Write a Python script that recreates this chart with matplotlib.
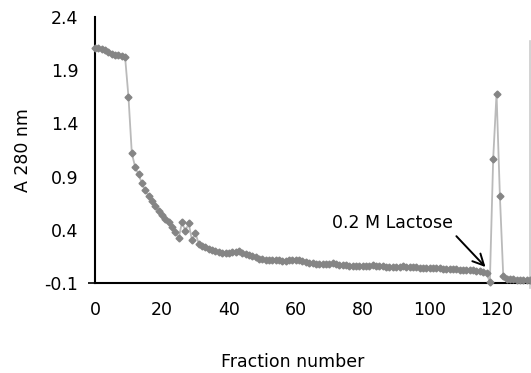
import matplotlib
matplotlib.use("Agg")
import matplotlib.pyplot as plt

# fraction numbers and absorbance at 280 nm
fractions = list(range(0, 131))
a280 = [
    2.11, 2.11, 2.10, 2.09, 2.07, 2.05, 2.04, 2.04, 2.03, 2.02,
    1.65, 1.12, 0.99, 0.92, 0.84, 0.77, 0.72, 0.67, 0.62, 0.58,
    0.54, 0.50, 0.47, 0.43, 0.38, 0.32, 0.47, 0.39, 0.46, 0.30,
    0.37, 0.27, 0.25, 0.24, 0.22, 0.21, 0.20, 0.19, 0.18, 0.18,
    0.18, 0.19, 0.19, 0.20, 0.18, 0.17, 0.16, 0.15, 0.14, 0.13,
    0.13, 0.12, 0.12, 0.12, 0.12, 0.12, 0.11, 0.11, 0.12, 0.12,
    0.12, 0.12, 0.11, 0.10, 0.09, 0.09, 0.08, 0.08, 0.08, 0.08,
    0.08, 0.09, 0.08, 0.07, 0.07, 0.07, 0.06, 0.06, 0.06, 0.06,
    0.06, 0.06, 0.06, 0.07, 0.06, 0.06, 0.06, 0.05, 0.05, 0.05,
    0.05, 0.05, 0.06, 0.05, 0.05, 0.05, 0.05, 0.04, 0.04, 0.04,
    0.04, 0.04, 0.04, 0.04, 0.03, 0.03, 0.03, 0.03, 0.03, 0.02,
    0.02, 0.02, 0.02, 0.02, 0.01, 0.01, 0.00, -0.01, -0.09, 1.07,
    1.68, 0.72, -0.03, -0.06, -0.06, -0.06, -0.07, -0.07, -0.07, -0.07,
    -0.07,
]

x_ticks = [0, 20, 40, 60, 80, 100, 120]
y_ticks = [-0.1, 0.4, 0.9, 1.4, 1.9, 2.4]
y_tick_labels = ["-0.1", "0.4", "0.9", "1.4", "1.9", "2.4"]

plt.rcParams['font.family'] = ['DejaVu Sans']
fs = 12.5

fig = plt.figure(figsize=(5.31, 3.73), dpi=100)
ax = fig.add_axes([95 / 531, 90 / 373, 435 / 531, 266 / 373])

ax.plot(fractions, a280, color='#bababa', lw=1.3, marker='D', ms=3.5,
        mfc='#858585', mec='#858585', zorder=3, clip_on=False)

ax.set_xlim(0, 130)
ax.set_ylim(-0.1, 2.4)
ax.set_xticks(x_ticks)
ax.set_yticks(y_ticks)
ax.set_yticklabels(y_tick_labels)
ax.tick_params(axis='x', length=0, pad=13, labelsize=fs)
ax.tick_params(axis='y', length=0, pad=12, labelsize=fs)
# only the bottom y tick shows a little mark
ax.yaxis.get_major_ticks()[0].tick1line.set_markersize(5)
ax.yaxis.get_major_ticks()[0].tick1line.set_markeredgewidth(1.2)

for s in ['top', 'right']:
    ax.spines[s].set_visible(False)
ax.spines['left'].set_linewidth(1.5)
ax.spines['bottom'].set_linewidth(1.5)
ax.axvline(130, ymin=-0.02, ymax=0.91, color='#cccccc', lw=1.2, clip_on=False)

ax.set_ylabel("A 280 nm", fontsize=fs)
ax.yaxis.set_label_coords(-0.145, 0.5)
ax.set_xlabel("Fraction number", fontsize=fs)
ax.xaxis.set_label_coords(0.455, -0.265)

ax.text(89, 0.46, "0.2 M Lactose", fontsize=fs, ha='center', va='center')
ax.annotate("", xy=(116.7, 0.05), xytext=(108, 0.34),
            arrowprops=dict(arrowstyle='->', color='black', lw=1.4,
                            mutation_scale=20, shrinkA=0, shrinkB=0))

fig.savefig("out.png", dpi=100)
